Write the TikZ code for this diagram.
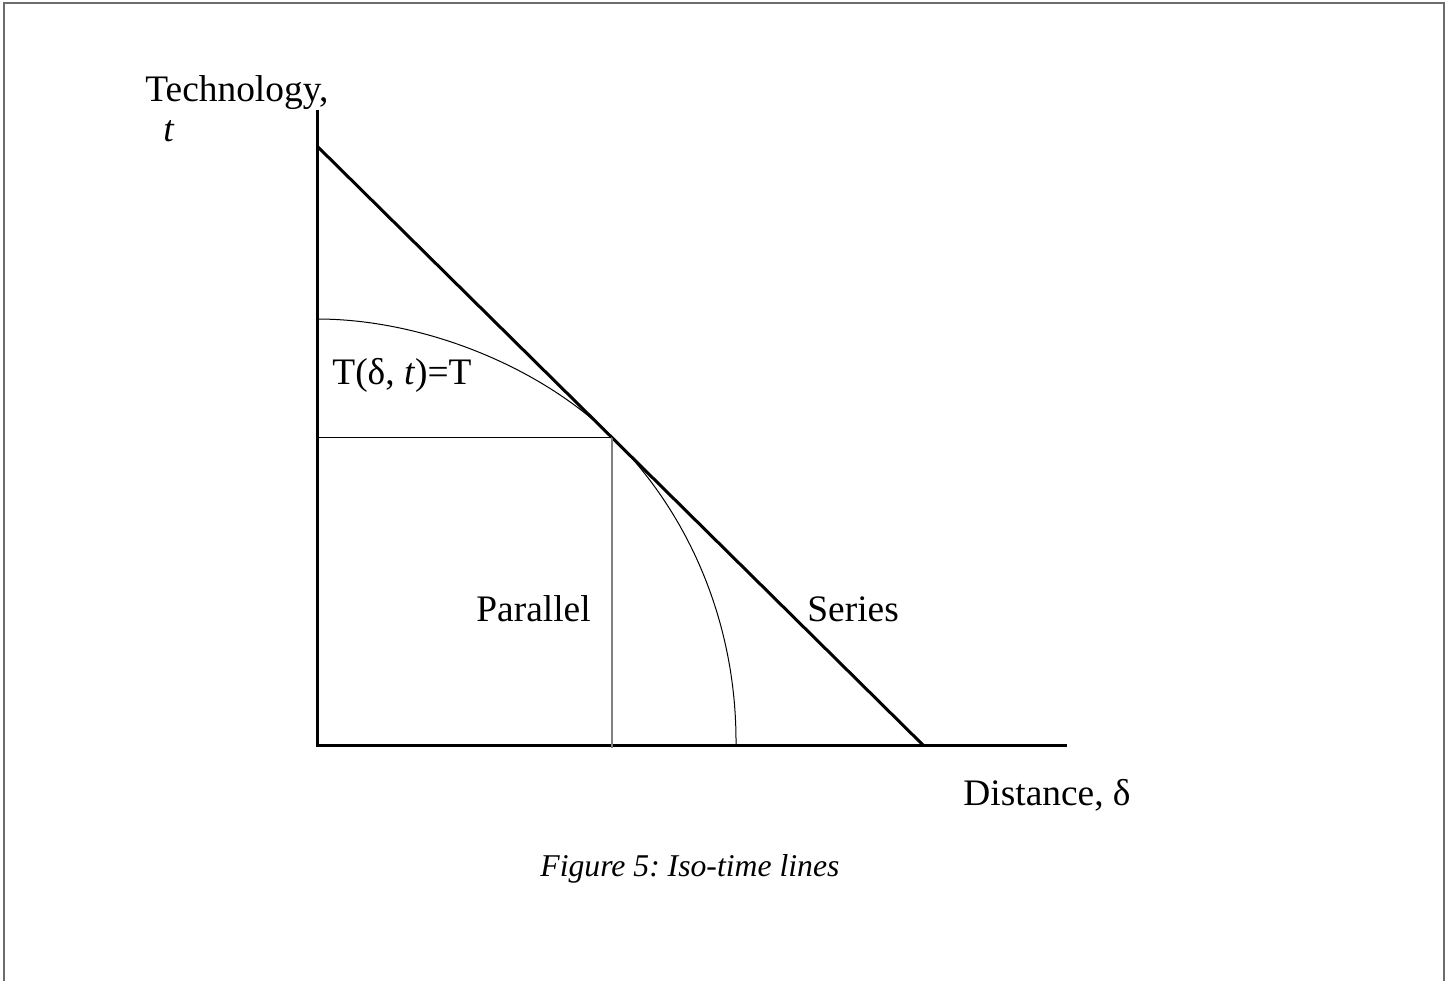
\documentclass[tikz,border=0pt]{standalone}
\usepackage{fontspec}
\setmainfont{Liberation Serif}
\frenchspacing
\begin{document}
\begin{tikzpicture}[x=0.5pt,y=-0.5pt,
  thick axis/.style={line width=1.5pt,black},
  thin line/.style={line width=0.5pt,black},
  guide/.style={line width=0.8pt,gray},
  lbl/.style={inner sep=0pt,anchor=base west,font=\fontsize{18.7pt}{22pt}\selectfont},
  caplbl/.style={lbl,font=\fontsize{15.85pt}{20pt}\selectfont\itshape}]
\useasboundingbox (0,0) rectangle (1453,981);
% frame
\draw[line width=1pt,gray!85!black] (4,981) -- (4,3) -- (1444,3) -- (1444,981);
% coordinates
\coordinate (O) at (317,745);
\coordinate (Ytop) at (317,110);
\coordinate (Xend) at (1067,745);
\coordinate (Dtop) at (317,146);
\coordinate (Dbot) at (923,745);
\coordinate (P) at (612,437);
\coordinate (Pl) at (317,437);
\coordinate (Pb) at (612,748);
\coordinate (Cs) at (317,319);
\coordinate (Ce) at (736,745);
% axes
\draw[thick axis] (Ytop) -- (317,746);
\draw[thick axis] (316,745) -- (Xend);
% series line
\draw[thick axis] (Dtop) -- (Dbot);
% guides
\draw[thin line] (Pl) -- (P);
\draw[guide] (P) -- (Pb);
% iso-time curve
\draw[thin line] (Cs) .. controls (422,319) and (540,366) .. (P)
  .. controls (690,514) and (737,625) .. (Ce);
% labels
\node[lbl] (tech) at (145,101) {Technology,};
\node[lbl] (tv) at (163,141) {\itshape t};
\node[lbl] (iso) at (332,384) {T(δ, \textit{t})=T};
\node[lbl] (par) at (476,621) {Parallel};
\node[lbl] (ser) at (807,621) {Series};
\node[lbl] (dist) at (963,805) {Distance, δ};
\node[caplbl] (cap) at (540,876) {Figure 5: Iso-time lines};
\end{tikzpicture}
\end{document}
